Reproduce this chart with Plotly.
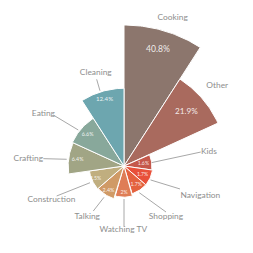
import numpy as np
import plotly.graph_objects as go

# ---- data ----
categories = ["Cooking", "Other", "Kids", "Navigation", "Shopping", "Watching TV",
              "Talking", "Construction", "Crafting", "Eating", "Cleaning"]
values = [40.8, 21.9, 1.6, 1.7, 1.7, 2, 2.4, 2.5, 6.4, 6.6, 12.4]

# ---- styles / layout params ----
colors = ["#8C766D", "#A96A5E", "#C5584B", "#E8513A", "#E4623F", "#DF7D56",
          "#D09A66", "#C0AE7F", "#A1A585", "#88A89B", "#6DA6AF"]
W = H = 253
CX, CY = 124, 166          # centre of the rose in px
RMAX_PX = 141              # px radius of the largest wedge
n = len(categories)
step = 360 / n
r = np.sqrt(values)        # area-proportional radius
rmax = float(r.max())
k = rmax / RMAX_PX         # data units per px

# outside label placement (px radius, angle clockwise from north)
lab_r = [156, 123, 86, 82, 66, 64, 63, 80, 96, 96, 97]
lab_a = [18.2, 49.3, 80.9, 111.3, 140.5, 180.6, 215.7, 245, 274.4, 302.9, 343.1]
# leader lines (start r px, start angle, end r px, end angle)
leaders = [None, None,
           (28, 83, 78, 79.7), (30, 117.7, 60.5, 112.3), (30.8, 150.2, 62.3, 137.6),
           (33, 180, 60.7, 180), (37.2, 212.6, 54.5, 214.3), (37.9, 243.8, 73.7, 246),
           (57.7, 276.7, 81, 275.2), (58.2, 308.2, 87.2, 305.8), (79, 342.3, 90.9, 342.5)]
inner_frac = [0.855, 0.80, 0.70, 0.71, 0.78, 0.85, 0.84, 0.9, 0.84, 0.85, 0.89]
inner_size = [8.6, 8.2, 5.2, 5.2, 5.2, 5.2, 5.4, 5.2, 5.4, 5.4, 6.2]


def xy(rad, ang):
    a = np.radians(ang)
    return rad * np.sin(a), rad * np.cos(a)


fig = go.Figure()

# wedges
for i in range(n):
    a0, a1 = i * step, (i + 1) * step
    arc = np.linspace(a0, a1, 40)
    xs, ys = xy(r[i], arc)
    fig.add_trace(go.Scatter(
        x=np.concatenate([[0], xs, [0]]), y=np.concatenate([[0], ys, [0]]),
        mode="lines", fill="toself", fillcolor=colors[i],
        line=dict(color="white", width=1), hoverinfo="skip", showlegend=False))

# leader lines
lx, ly = [], []
for L in leaders:
    if L is None:
        continue
    x0, y0 = xy(L[0] * k, L[1])
    x1, y1 = xy(L[2] * k, L[3])
    lx += [x0, x1, None]
    ly += [y0, y1, None]
fig.add_trace(go.Scatter(x=lx, y=ly, mode="lines",
                         line=dict(color="#A8A8A8", width=1),
                         hoverinfo="skip", showlegend=False))

# inside value labels
mid = [i * step + step / 2 for i in range(n)]
ix, iy = xy(r * np.array(inner_frac), np.array(mid))
fig.add_trace(go.Scatter(
    x=ix, y=iy, mode="text", text=[f"{v:g}%" for v in values],
    textfont=dict(family="Lato", size=inner_size, color="rgba(255,255,255,0.88)"),
    hoverinfo="skip", showlegend=False))

# outside category labels
ox, oy = xy(np.array(lab_r) * k, np.array(lab_a))
fig.add_trace(go.Scatter(
    x=ox, y=oy, mode="text", text=categories,
    textfont=dict(family="Lato", size=8.4, color="#8E8E8E"),
    hoverinfo="skip", showlegend=False))

fig.update_layout(
    width=W, height=H, margin=dict(l=0, r=0, t=0, b=0),
    paper_bgcolor="white", plot_bgcolor="white",
    xaxis=dict(range=[-CX * k, (W - CX) * k], visible=False, fixedrange=True),
    yaxis=dict(range=[-(H - CY) * k, CY * k], visible=False, fixedrange=True),
)
fig.write_html("out.html", config={"displayModeBar": False},
               post_script="document.body.style.margin='0px';")
